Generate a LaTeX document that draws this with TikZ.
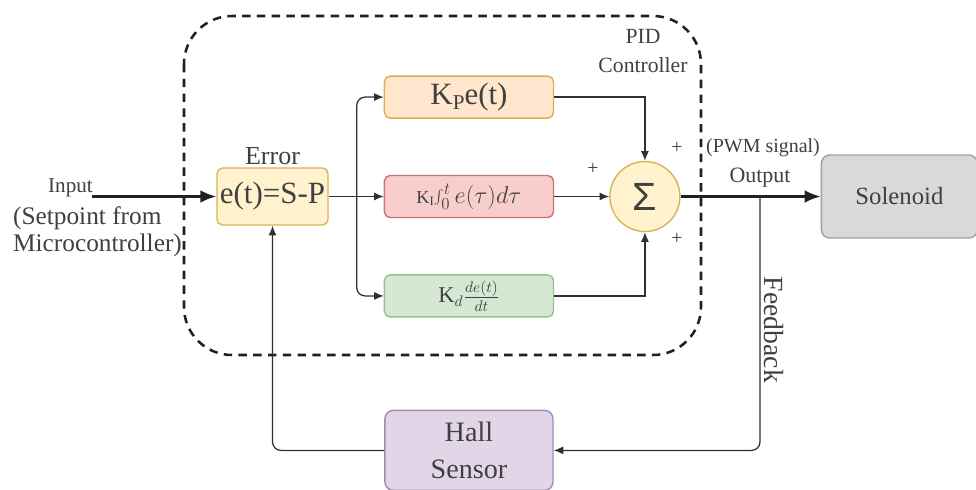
\documentclass[tikz,border=0pt]{standalone}
\usepackage{fontspec}
\setmainfont{Liberation Serif}
\newfontfamily\sumfont{Liberation Sans}
\usetikzlibrary{arrows.meta, positioning, calc}

\definecolor{textGray}{HTML}{404040}
\definecolor{lineGray}{HTML}{303030}
\definecolor{frameGray}{HTML}{202020}
\definecolor{yellowFill}{HTML}{FFF2CC}
\definecolor{yellowLine}{HTML}{D6B656}
\definecolor{orangeFill}{HTML}{FFE6CC}
\definecolor{orangeLine}{HTML}{E0AE50}
\definecolor{redFill}{HTML}{F8CECC}
\definecolor{redLine}{HTML}{C97470}
\definecolor{greenFill}{HTML}{D5E8D4}
\definecolor{greenLine}{HTML}{97C08A}
\definecolor{purpleFill}{HTML}{E1D5E7}
\definecolor{purpleLine}{HTML}{A58AB5}
\definecolor{grayFill}{HTML}{D9D9D9}
\definecolor{grayLine}{HTML}{A0A0A8}

\tikzset{
  block/.style = {
    draw,
    rounded corners=4pt,
    line width=1pt,
    text=textGray,
    align=center,
    inner sep=2pt,
  },
  gain/.style = {
    block,
    minimum width=4.225cm,
    minimum height=1.05cm,
  },
  signal/.style = {
    -{Latex[length=2.4mm, width=2mm]},
    line width=.9pt,
    draw=lineGray,
  },
  mainSignal/.style = {
    -{Latex[length=4mm, width=3.2mm]},
    line width=1.8pt,
    draw=frameGray,
  },
  plusSign/.style = {
    text=textGray,
    font=\fontsize{14}{16}\selectfont,
  },
  node distance=1.4cm and 1.375cm,
}

\begin{document}
\begin{tikzpicture}[
  x=0.025cm,
  y=-0.025cm,
  controllerFrame/.style = {
    dash pattern=on 6pt off 4.5pt,
    line width=1.8pt,
    rounded corners=1.2cm,
    draw=frameGray,
  },
  caption/.style = {
    text=textGray,
    align=center,
  },
]
\useasboundingbox (0,0) rectangle (976,489);

% PID controller frame
\draw[controllerFrame] (184,16) rectangle (701,355);
\node(PIDLabel)[caption, font=\fontsize{15.4}{21}\selectfont] at (643,51) {PID\\Controller};

\node(Error)[block, fill=yellowFill, draw=yellowLine,
  minimum width=2.775cm, minimum height=1.425cm,
  font=\fontsize{22}{24}\selectfont,
  label={[caption, font=\fontsize{18.5}{20}\selectfont, label distance=-2pt]above:Error}]
  at (272.5,196.5) {e(t)=S-P};

\node(Integral)[gain, fill=redFill, draw=redLine, right=of Error]
  {{\fontsize{13}{15}\selectfont K\textsubscript{I}}\fontsize{17}{19}\selectfont$\int_0^t e(\tau)d\tau$};

\node(Proportional)[gain, fill=orangeFill, draw=orangeLine, above=of Integral,
  font=\fontsize{22}{24}\selectfont]
  {K\raisebox{-.35ex}{\fontsize{15}{15}\selectfont P}e(t)};

\node(Derivative)[gain, fill=greenFill, draw=greenLine, below=of Integral,
  font=\fontsize{16}{18}\selectfont]
  {K$_d\frac{de(t)}{dt}$};

\node(Sum)[block, circle, fill=yellowFill, draw=yellowLine, minimum size=1.75cm,
  right=of Integral, font=\sumfont\fontsize{28}{30}\selectfont]
  {Σ};

\node(Solenoid)[block, fill=grayFill, draw=grayLine, rounded corners=6pt,
  minimum width=3.9cm, minimum height=2.075cm, right=3.5cm of Sum,
  font=\fontsize{17.6}{20}\selectfont]
  {Solenoid};

\node(HallSensor)[block, fill=purpleFill, draw=purpleLine, rounded corners=6pt,
  minimum width=4.2cm, minimum height=2cm, below=2.3cm of Derivative,
  font=\fontsize{20}{26.5}\selectfont]
  {Hall\\Sensor};

% input side
\coordinate (InputStart) at (92,196.5);
\node(InputLabel)[caption, anchor=base east, inner sep=0pt, font=\fontsize{15}{17}\selectfont]
  at (93,192) {Input};
\node(SetpointLabel)[caption, align=left, font=\fontsize{18}{19.2}\selectfont]
  at (97.5,232) {(Setpoint from\\Microcontroller)};
\draw[mainSignal] (InputStart) -- (Error.west);

% branches
\coordinate (Split) at ($(Error.east)+(28,0)$);
\draw[signal] (Error.east) -- (Integral.west);
\draw[signal, rounded corners=6pt] (Split) |- (Proportional.west);
\draw[signal, rounded corners=6pt] (Split) |- (Derivative.west);

\draw[signal] (Proportional.east) -| (Sum.north);
\draw[signal] (Integral.east) -- (Sum.west);
\draw[signal] (Derivative.east) -| (Sum.south);

\node(PlusLeft)[plusSign] at (593,169) {+};
\node(PlusTop)[plusSign] at (677,148) {+};
\node(PlusBottom)[plusSign] at (677,239) {+};

% output and feedback
\draw[mainSignal] (Sum.east) -- (Solenoid.west);
\node(PWMLabel)[caption, font=\fontsize{14.2}{16}\selectfont] at (763,148) {(PWM signal)};
\node(OutputLabel)[caption, font=\fontsize{15.6}{17}\selectfont] at (760,178) {Output};

\coordinate (Tap) at (760,196.5);
\draw[signal, rounded corners=6pt] (Tap) |- (HallSensor.east);
\draw[signal, rounded corners=6pt] (HallSensor.west) -| (Error.south);
\node(FeedbackLabel)[caption, rotate=-90, anchor=south, inner sep=2pt,
  font=\fontsize{19.7}{21}\selectfont] at (761,330) {Feedback};

\end{tikzpicture}
\end{document}
